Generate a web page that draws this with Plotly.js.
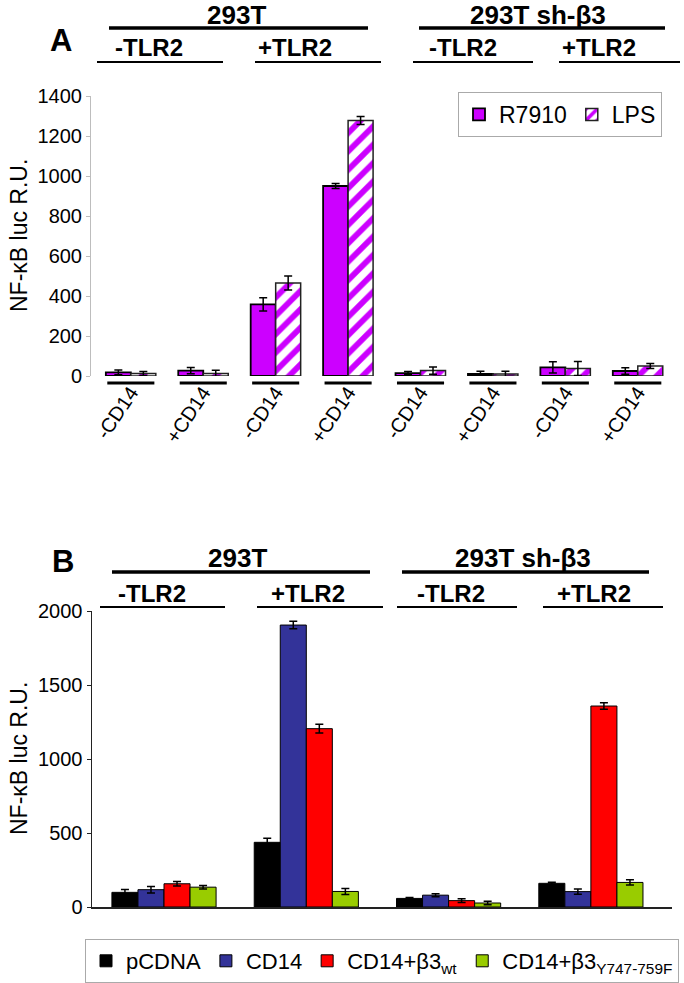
<!DOCTYPE html>
<html><head><meta charset="utf-8">
<script src="https://cdn.plot.ly/plotly-3.0.1.min.js"></script>
<style>html,body{margin:0;padding:0;background:#fff}#chart{width:684px;height:983px}</style>
</head><body><div id="chart"></div>
<script>
// ---------- Panel A data ----------
const cellLines = ["293T", "293T sh-\u03b23"];
const tlrLabels = ["-TLR2", "+TLR2", "-TLR2", "+TLR2"];
const cd14Labels = ["-CD14", "+CD14", "-CD14", "+CD14", "-CD14", "+CD14", "-CD14", "+CD14"];
const r7910 = [18, 27, 358, 950, 14, 10, 43, 25];
const r7910Err = [12, 16, 33, 12, 8, 14, 28, 16];
const lps = [13, 13, 465, 1278, 27, 10, 37, 50];
const lpsErr = [10, 16, 35, 20, 18, 14, 35, 12];
const yTicksA = [0, 200, 400, 600, 800, 1000, 1200, 1400];

// ---------- Panel B data ----------
const conditionsB = ["293T -TLR2", "293T +TLR2", "293T sh-\u03b23 -TLR2", "293T sh-\u03b23 +TLR2"];
const pcdna = [99, 437, 58, 160];
const pcdnaErr = [20, 28, 6, 7];
const cd14 = [117, 1905, 80, 104];
const cd14Err = [22, 25, 10, 18];
const b3wt = [157, 1205, 43, 1358];
const b3wtErr = [15, 30, 12, 22];
const b3mut = [134, 105, 27, 166];
const b3mutErr = [12, 20, 12, 18];
const yTicksB = [0, 500, 1000, 1500, 2000];
const seriesB = ["pCDNA", "CD14", "CD14+\u03b23<sub>wt</sub>", "CD14+\u03b23<sub>Y747-759F</sub>"];

// ---------- helpers ----------
const W = 684, H = 983;
const fx = p => p / W;
const fy = p => 1 - p / H;
const FONT = "Liberation Sans, Arial, Helvetica, sans-serif";
const purple = "#cc00ff";

const idxA = cd14Labels.map((_, i) => i);
const idxB = conditionsB.map((_, i) => i);

const wA = 0.345, wB = 0.183;
const errStyle = (arr) => ({type: "data", array: arr, visible: true, color: "#000", thickness: 1.5, width: 4});

const traces = [
  {type: "bar", name: "R7910", x: idxA, y: r7910, xaxis: "x", yaxis: "y", legend: "legend",
   offset: -wA, width: wA, error_y: errStyle(r7910Err),
   marker: {color: purple, line: {color: "#000", width: 1.8}}},
  {type: "bar", name: "LPS", x: idxA, y: lps, xaxis: "x", yaxis: "y", legend: "legend",
   offset: 0, width: wA, error_y: errStyle(lpsErr),
   marker: {color: "#ffffff", line: {color: "#222", width: 1.5},
            pattern: {shape: "/", fgcolor: purple, bgcolor: "#ffffff", size: 13, solidity: 0.45}}},
];
const valsB = [pcdna, cd14, b3wt, b3mut];
const errsB = [pcdnaErr, cd14Err, b3wtErr, b3mutErr];
const colsB = ["#000000", "#333399", "#ff0000", "#99cc00"];
valsB.forEach((v, k) => {
  traces.push({type: "bar", name: seriesB[k], x: idxB, y: v, xaxis: "x2", yaxis: "y2", legend: "legend2",
    offset: -2 * wB + k * wB, width: wB, error_y: errStyle(errsB[k]),
    marker: {color: colsB[k], line: {color: "#000", width: 1}}});
});

const shapes = [];
const ann = [];
const hline = (x0, x1, y, w) => shapes.push({type: "line", xref: "paper", yref: "paper",
  x0: fx(x0), x1: fx(x1), y0: fy(y), y1: fy(y), line: {color: "#000", width: w}});
const label = (text, x, y, size, bold, extra) => ann.push(Object.assign({
  text: bold ? "<b>" + text + "</b>" : text, xref: "paper", yref: "paper", x: fx(x), y: fy(y),
  xanchor: "center", yanchor: "middle", showarrow: false,
  font: {family: FONT, size: size, color: "#000"}}, extra || {}));

// Panel A headers
hline(109, 368, 28, 3.5); hline(419, 665, 28, 3.5);
label(cellLines[0], 236, 15, 26, true); label(cellLines[1], 538, 15, 26, true);
[[97, 223, 149], [255, 381, 295], [413, 533, 463], [559, 680, 599]].forEach((p, i) => {
  hline(p[0], p[1], 62, 2); label(tlrLabels[i], p[2], 48, 24, true);
});
label("A", 61, 40, 31, true);
// group underlines A
idxA.forEach(i => shapes.push({type: "line", xref: "x", yref: "paper", x0: i - 0.325, x1: i + 0.325,
  y0: fy(383), y1: fy(383), line: {color: "#000", width: 3}}));

// Panel B headers
hline(112, 370, 572, 3.5); hline(402, 649, 572, 3.5);
label(cellLines[0], 237, 558, 26, true); label(cellLines[1], 523, 558, 26, true);
[[100, 225, 152], [257, 383, 308], [397, 517, 451], [543, 663, 594]].forEach((p, i) => {
  hline(p[0], p[1], 607, 2); label(tlrLabels[i], p[2], 593, 24, true);
});
label("B", 63, 561, 31, true);

// y titles
label("NF-\u03baB luc R.U.", 19, 236, 23, false, {textangle: -90});
label("NF-\u03baB luc R.U.", 19, 759, 23, false, {textangle: -90});

const tickfont = {family: FONT, size: 20, color: "#000"};
const layout = {
  width: W, height: H, margin: {l: 0, r: 0, t: 0, b: 0},
  paper_bgcolor: "#fff", plot_bgcolor: "rgba(0,0,0,0)",
  font: {family: FONT, color: "#000"},
  barmode: "group",
  xaxis: {domain: [fx(91), fx(674)], range: [-0.55, 7.5], anchor: "y",
    tickmode: "array", tickvals: idxA, ticktext: cd14Labels, tickangle: -56, tickfont: tickfont,
    showline: false, showgrid: false, zeroline: false, ticks: "", fixedrange: true},
  yaxis: {domain: [fy(376), fy(96)], range: [0, 1400], anchor: "x",
    tickmode: "array", tickvals: yTicksA, tickfont: tickfont,
    showline: true, linecolor: "#bdbdbd", linewidth: 1, ticks: "outside", ticklen: 4, tickcolor: "#bdbdbd",
    showgrid: false, zeroline: false, fixedrange: true},
  xaxis2: {domain: [fx(92), fx(672)], range: [-0.506, 3.57], anchor: "y2",
    showticklabels: false, showline: true, linecolor: "#222", linewidth: 2,
    showgrid: false, zeroline: false, ticks: "", fixedrange: true},
  yaxis2: {domain: [fy(907), fy(611)], range: [0, 2000], anchor: "x2",
    tickmode: "array", tickvals: yTicksB, tickfont: tickfont,
    showline: true, linecolor: "#222", linewidth: 1.5, ticks: "outside", ticklen: 4, tickcolor: "#222",
    showgrid: false, zeroline: false, fixedrange: true},
  legend: {x: fx(458), y: fy(92), xanchor: "left", yanchor: "top", orientation: "h",
    bgcolor: "#fff", bordercolor: "#aaa", borderwidth: 1, font: {family: FONT, size: 23, color: "#000"}},
  legend2: {x: fx(85), y: fy(939), xanchor: "left", yanchor: "top", orientation: "h",
    bgcolor: "#fff", bordercolor: "#aaa", borderwidth: 1, font: {family: FONT, size: 22, color: "#000"}},
  shapes: shapes,
  annotations: ann
};
Plotly.newPlot("chart", traces, layout, {displayModeBar: false, staticPlot: true});
</script></body></html>
